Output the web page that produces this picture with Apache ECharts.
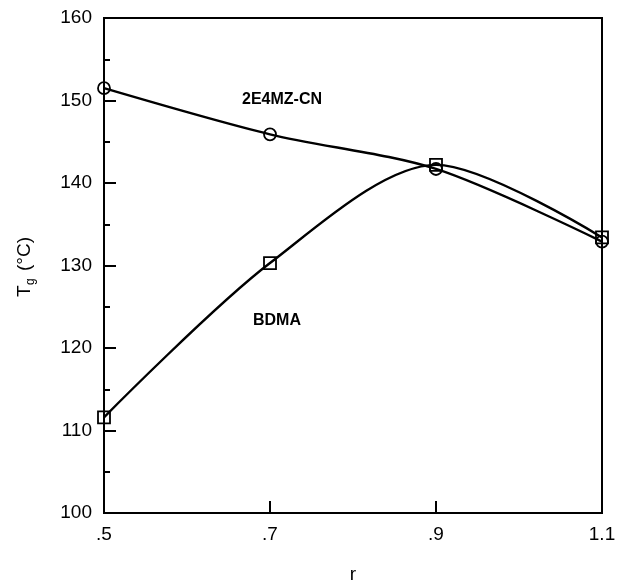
<!DOCTYPE html>
<html>
<head>
<meta charset="utf-8">
<script src="https://cdn.jsdelivr.net/npm/echarts@6/dist/echarts.min.js"></script>
<style>
  html, body { margin: 0; padding: 0; background: #fff; }
  #chart { width: 630px; height: 584px; }
</style>
</head>
<body>
<div id="chart"></div>
<script>
// Glass transition temperature vs. stoichiometric ratio r for two accelerators
const rLabels = ['.5', '.7', '.9', '1.1'];
const tg2E4MZ = [151.5, 145.9, 141.7, 132.9];
const tgBDMA = [111.6, 130.3, 142.2, 133.4];
const yTicks = { min: 100, max: 160, step: 10 };

const FONT = '"Liberation Sans", Arial, sans-serif';

const chart = echarts.init(document.getElementById('chart'));

const series = (name, data, symbol) => ({
  name,
  type: 'line',
  data,
  smooth: 0.3,
  symbol,
  symbolSize: 12,
  showSymbol: true,
  lineStyle: { color: '#000', width: 2.4 },
  itemStyle: { color: 'rgba(0,0,0,0)', borderColor: '#000', borderWidth: 1.8 },
  emphasis: { disabled: true },
  z: 3
});

chart.setOption({
  animation: false,
  backgroundColor: '#fff',
  grid: {
    left: 104, right: 28, top: 18, bottom: 71,
    outerBoundsMode: 'none',
    show: true, borderColor: '#000', borderWidth: 2
  },
  xAxis: {
    type: 'category',
    data: rLabels,
    boundaryGap: false,
    name: 'r',
    nameLocation: 'middle',
    nameGap: 52,
    nameTextStyle: { fontFamily: FONT, fontSize: 19, color: '#000' },
    axisLine: { lineStyle: { color: '#000', width: 2 } },
    axisTick: { show: true, inside: true, length: 12, lineStyle: { color: '#000', width: 2 } },
    axisLabel: { fontFamily: FONT, fontSize: 19, color: '#000', margin: 12 },
    splitLine: { show: false }
  },
  yAxis: {
    type: 'value',
    min: yTicks.min,
    max: yTicks.max,
    interval: yTicks.step,
    axisLine: { show: true, lineStyle: { color: '#000', width: 2 } },
    axisTick: { show: true, inside: true, length: 12, lineStyle: { color: '#000', width: 2 } },
    minorTick: { show: true, splitNumber: 2, length: 6, lineStyle: { color: '#000', width: 2 } },
    axisLabel: { fontFamily: FONT, fontSize: 19, color: '#000', margin: 12 },
    splitLine: { show: false }
  },
  series: [
    series('2E4MZ-CN', tg2E4MZ, 'circle'),
    series('BDMA', tgBDMA, 'rect')
  ],
  graphic: [
    {
      type: 'text', left: 242, top: 92,
      style: { text: '2E4MZ-CN', font: 'bold 16px ' + FONT, fill: '#000' }
    },
    {
      type: 'text', left: 253, top: 313,
      style: { text: 'BDMA', font: 'bold 16px ' + FONT, fill: '#000' }
    },
    {
      type: 'group', x: 25, y: 267, rotation: Math.PI / 2,
      children: [
        { type: 'text', x: -30, y: 0,
          style: { text: 'T', font: '19px ' + FONT, fill: '#000', verticalAlign: 'middle' } },
        { type: 'text', x: -18, y: 6,
          style: { text: 'g', font: '12px ' + FONT, fill: '#000', verticalAlign: 'middle' } },
        { type: 'text', x: -4, y: 0,
          style: { text: '(°C)', font: '19px ' + FONT, fill: '#000', verticalAlign: 'middle' } }
      ]
    }
  ]
});
</script>
</body>
</html>
